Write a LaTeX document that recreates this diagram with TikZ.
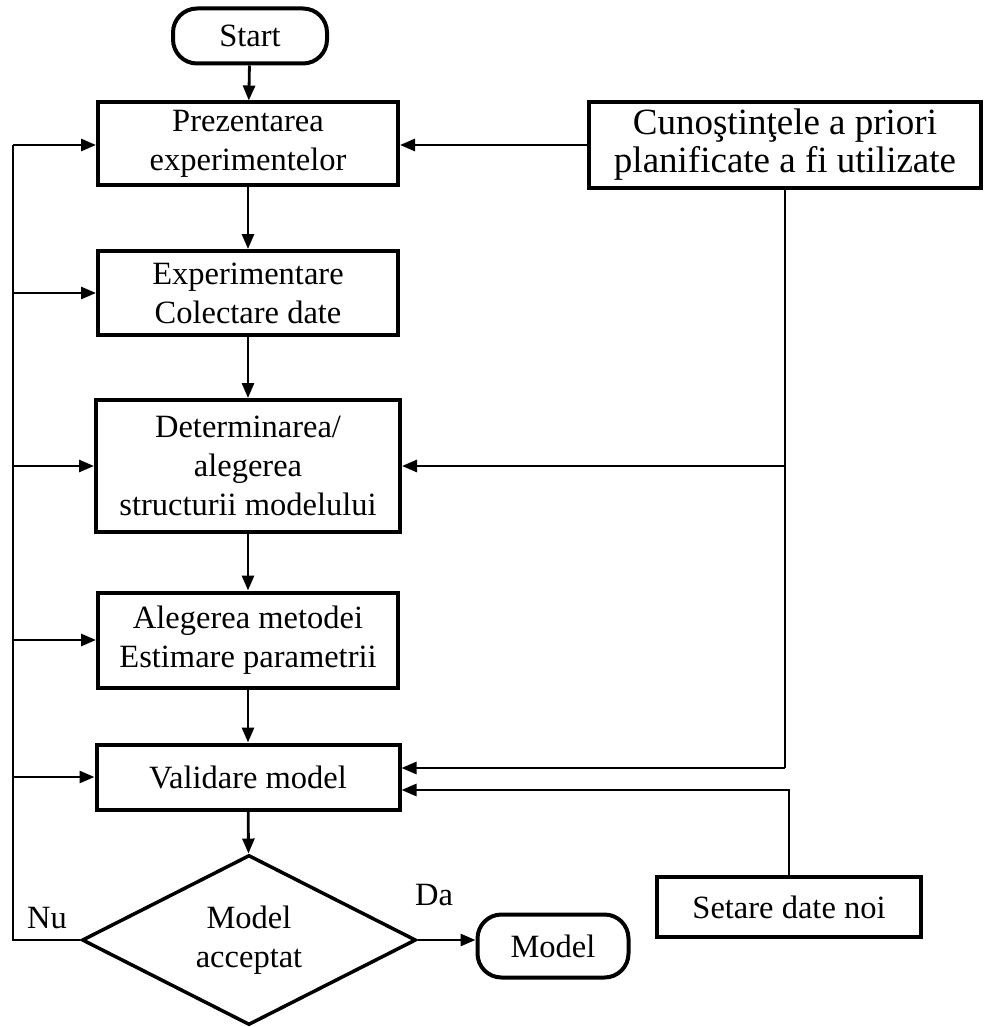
\documentclass[tikz,border=0pt]{standalone}
\usepackage{fontspec}
\setmainfont{Liberation Serif}
\usetikzlibrary{shapes.geometric, arrows.meta}
\begin{document}
\begin{tikzpicture}[x=1pt, y=-1pt,
  txt/.style={font=\fontsize{32.5}{39}\selectfont},
  box/.style={txt, draw, line width=4pt, minimum width=300pt, align=center, inner sep=0pt},
  pill/.style={txt, draw, line width=4pt, rounded corners=24pt, inner sep=0pt},
  decision/.style={txt, draw, diamond, aspect=2, line width=3.5pt, inner sep=0pt, align=center,
                   minimum width=334pt, minimum height=170pt},
  ln/.style={line width=2.8pt},
  arr/.style={ln, -{Triangle[length=15pt, width=12pt]}}]
\useasboundingbox (0,0) rectangle (983,1027);

% main column
\node[pill, minimum width=154pt, minimum height=55pt] (start) at (250,36) {Start};
\node[box, minimum height=83pt] (prez) at (248,144) {Prezentarea\\experimentelor};
\node[box, minimum height=84pt] (exp) at (248,293) {Experimentare\\Colectare date};
\node[box, minimum width=304pt, minimum height=132pt] (det) at (248,466) {Determinarea/\\alegerea\\structurii modelului};
\node[box, minimum height=95pt] (alg) at (248,640) {Alegerea metodei\\Estimare parametrii};
\node[box, minimum width=303pt, minimum height=65pt] (val) at (248,777) {Validare model};
\node[decision] (dec) at (249,940) {Model\\acceptat};
\node[pill, minimum width=151pt, minimum height=63pt] (model) at (553,946) {Model};

% right column
\node[box, minimum width=392pt, minimum height=86pt, font=\fontsize{37}{38}\selectfont] (cun) at (785,145) {Cunoştinţele a priori\\planificate a fi utilizate};
\node[box, minimum width=264pt, minimum height=60pt] (set) at (789,907) {Setare date noi};

% labels
\node[txt] (da) at (434,895) {Da};
\node[txt] (nu) at (47,918) {Nu};

% helper points
\coordinate (lft) at (13,940);
\coordinate (vin1) at ([yshift=9pt]val.east);
\coordinate (vin2) at ([yshift=-13pt]val.east);

% main flow
\draw[arr] (start) -- (prez);
\draw[arr] (prez) -- (exp);
\draw[arr] (exp) -- (det);
\draw[arr] (det) -- (alg);
\draw[arr] (alg) -- (val);
\draw[arr] (val) -- (dec);
\draw[arr] (dec.east) -- (dec.east -| model.west);

% feedback loop on the left
\draw[ln] (dec.west) -- (lft) -- (lft |- cun.west);
\draw[arr] (lft |- cun.west) -- (cun.west -| prez.west);
\draw[arr] (lft |- exp.west) -- (exp.west);
\draw[arr] (lft |- det.west) -- (det.west);
\draw[arr] (lft |- alg.west) -- (alg.west);
\draw[arr] (lft |- val.west) -- (val.west);

% a priori knowledge feeds
\draw[arr] (cun.west) -- (cun.west -| prez.east);
\draw[ln] (cun.south) -- (cun.south |- vin1);
\draw[arr] (cun.south |- det.east) -- (det.east);
\draw[arr] (cun.south |- vin1) -- (vin1);
\draw[arr] (set.north) |- (vin2);
\end{tikzpicture}
\end{document}
